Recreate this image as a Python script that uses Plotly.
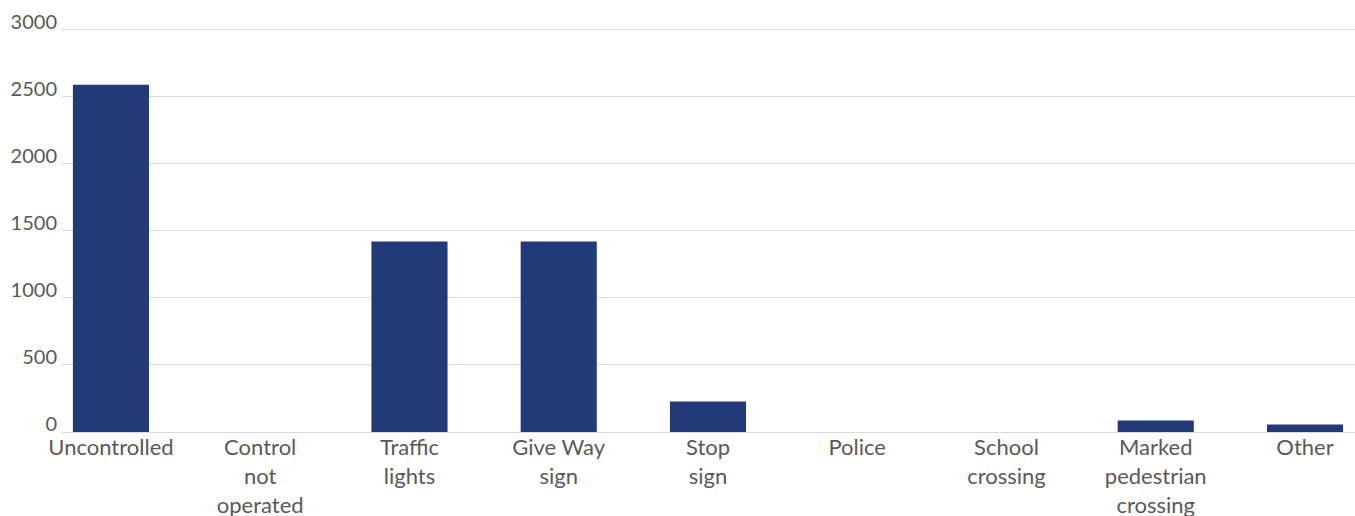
import plotly.graph_objects as go

# Crashes by type of traffic control
categories = [
    "Uncontrolled",
    "Control<br>not<br>operated",
    "Traffic<br>lights",
    "Give Way<br>sign",
    "Stop<br>sign",
    "Police",
    "School<br>crossing",
    "Marked<br>pedestrian<br>crossing",
    "Other",
]
counts = [2590, 0, 1420, 1420, 228, 0, 0, 85, 55]
y_ticks = [0, 500, 1000, 1500, 2000, 2500, 3000]

BAR_COLOR = "#223A78"
TEXT_COLOR = "#595959"
GRID_COLOR = "#D9D9D9"
FONT = "Lato, Open Sans, sans-serif"

idx = list(range(len(categories)))

fig = go.Figure(
    go.Bar(
        x=idx,
        y=counts,
        width=0.51,
        marker=dict(color=BAR_COLOR, line=dict(width=0)),
        hoverinfo="skip",
    )
)

fig.update_layout(
    width=1355,
    height=516,
    margin=dict(l=62, r=0, t=27, b=84),
    plot_bgcolor="white",
    paper_bgcolor="white",
    showlegend=False,
    font=dict(family=FONT, size=20, color=TEXT_COLOR),
)

fig.update_xaxes(
    tickmode="array",
    tickvals=idx,
    ticktext=categories,
    range=[-0.328, 8.335],
    automargin=False,
    showgrid=False,
    zeroline=False,
    showline=True,
    linecolor=GRID_COLOR,
    linewidth=1,
    layer="above traces",
    ticks="",
    ticklabelstandoff=-4,
    tickfont=dict(family=FONT, size=22, color=TEXT_COLOR),
)

fig.update_yaxes(
    range=[0, 3020],
    automargin=False,
    tickmode="array",
    tickvals=y_ticks,
    ticktext=[str(v) for v in y_ticks],
    showgrid=True,
    gridcolor=GRID_COLOR,
    gridwidth=1,
    zeroline=False,
    ticks="",
    ticklabelstandoff=4,
    ticklabelshift=-8,
    tickfont=dict(family=FONT, size=20, color=TEXT_COLOR),
)

fig.write_html("out.html")
